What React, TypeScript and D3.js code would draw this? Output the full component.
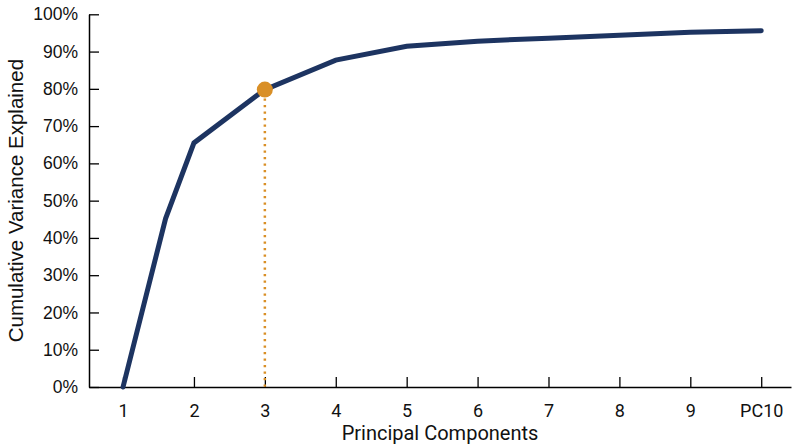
import React, { useEffect, useRef } from "react";
import * as d3 from "d3";

// cumulative variance explained
const componentPos = [1, 1.6, 2, 3, 4, 5, 6, 7, 8, 9, 10];
const cumVariance = [0, 45.2, 65.5, 79.8, 87.7, 91.4, 92.8, 93.6, 94.4, 95.2, 95.6];
const xTicks = [1, 2, 3, 4, 5, 6, 7, 8, 9, 10];
const xTickLabels = ["1", "2", "3", "4", "5", "6", "7", "8", "9", "PC10"];
const yTicks = [0, 10, 20, 30, 40, 50, 60, 70, 80, 90, 100];
const markerComponent = 3;
const markerValue = 79.8;

const width = 800;
const height = 447;

function App(): JSX.Element {
    const ref = useRef<SVGSVGElement>(null);

    useEffect(() => {
        if (!ref.current) return;
        const svg = d3.select(ref.current);
        svg.selectAll("*").remove();

        const x = d3.scaleLinear().domain([0.52, 10.42]).range([89, 791]);
        const y = d3.scaleLinear().domain([0, 100]).range([387, 14.3]);

        // axes
        const xAxis = svg.append("g").attr("transform", `translate(0, ${y(0)})`)
            .call(d3.axisBottom(x).tickValues(xTicks).tickSizeInner(-10).tickSizeOuter(0)
                .tickPadding(17).tickFormat((d, i) => xTickLabels[i]));
        xAxis.select(".domain").attr("stroke", "#000").attr("stroke-width", 1.5);
        xAxis.selectAll(".tick line").attr("stroke", "#000").attr("stroke-width", 1.3);
        xAxis.selectAll(".tick text")
            .attr("font-family", "Roboto").attr("font-size", 18).attr("fill", "#111");

        const yAxis = svg.append("g").attr("transform", `translate(${x.range()[0]}, 0)`)
            .call(d3.axisLeft(y).tickValues(yTicks).tickSizeInner(-10).tickSizeOuter(0)
                .tickPadding(11).tickFormat(d => `${d}%`));
        yAxis.select(".domain").attr("stroke", "#000").attr("stroke-width", 1.5);
        yAxis.selectAll(".tick line").attr("stroke", "#000").attr("stroke-width", 1.3);
        yAxis.selectAll(".tick text")
            .attr("font-family", "Liberation Sans").attr("font-size", 17.5).attr("fill", "#111");

        // titles
        svg.append("text")
            .attr("x", 440)
            .attr("y", 440)
            .attr("text-anchor", "middle")
            .attr("font-family", "Roboto").attr("font-size", 20).attr("fill", "#111")
            .text("Principal Components");
        svg.append("text")
            .attr("transform", `translate(23, ${(y(0) + y(100)) / 2}) rotate(-90)`)
            .attr("text-anchor", "middle")
            .attr("font-family", "Liberation Sans").attr("font-size", 20.5).attr("fill", "#111")
            .text("Cumulative Variance Explained");

        // the curve
        const line = d3.line<number>()
            .x((d, i) => x(componentPos[i]))
            .y(d => y(d));
        svg.append("path")
            .datum(cumVariance)
            .attr("d", line)
            .attr("fill", "none")
            .attr("stroke", "#1d3461")
            .attr("stroke-width", 5)
            .attr("stroke-linejoin", "miter")
            .attr("stroke-linecap", "round");

        // marker at the elbow
        svg.append("line")
            .attr("x1", x(markerComponent)).attr("x2", x(markerComponent))
            .attr("y1", y(markerValue) + 9).attr("y2", y(0))
            .attr("stroke", "#d98f26")
            .attr("stroke-width", 2.5)
            .attr("stroke-dasharray", "2.2,4.3");
        svg.append("circle")
            .attr("cx", x(markerComponent))
            .attr("cy", y(markerValue))
            .attr("r", 8)
            .attr("fill", "#d98f26");
    }, []);

    return <svg ref={ref} width={width} height={height}
                style={{position: "absolute", left: 0, top: 0, display: "block"}} />;
}

export default App;
